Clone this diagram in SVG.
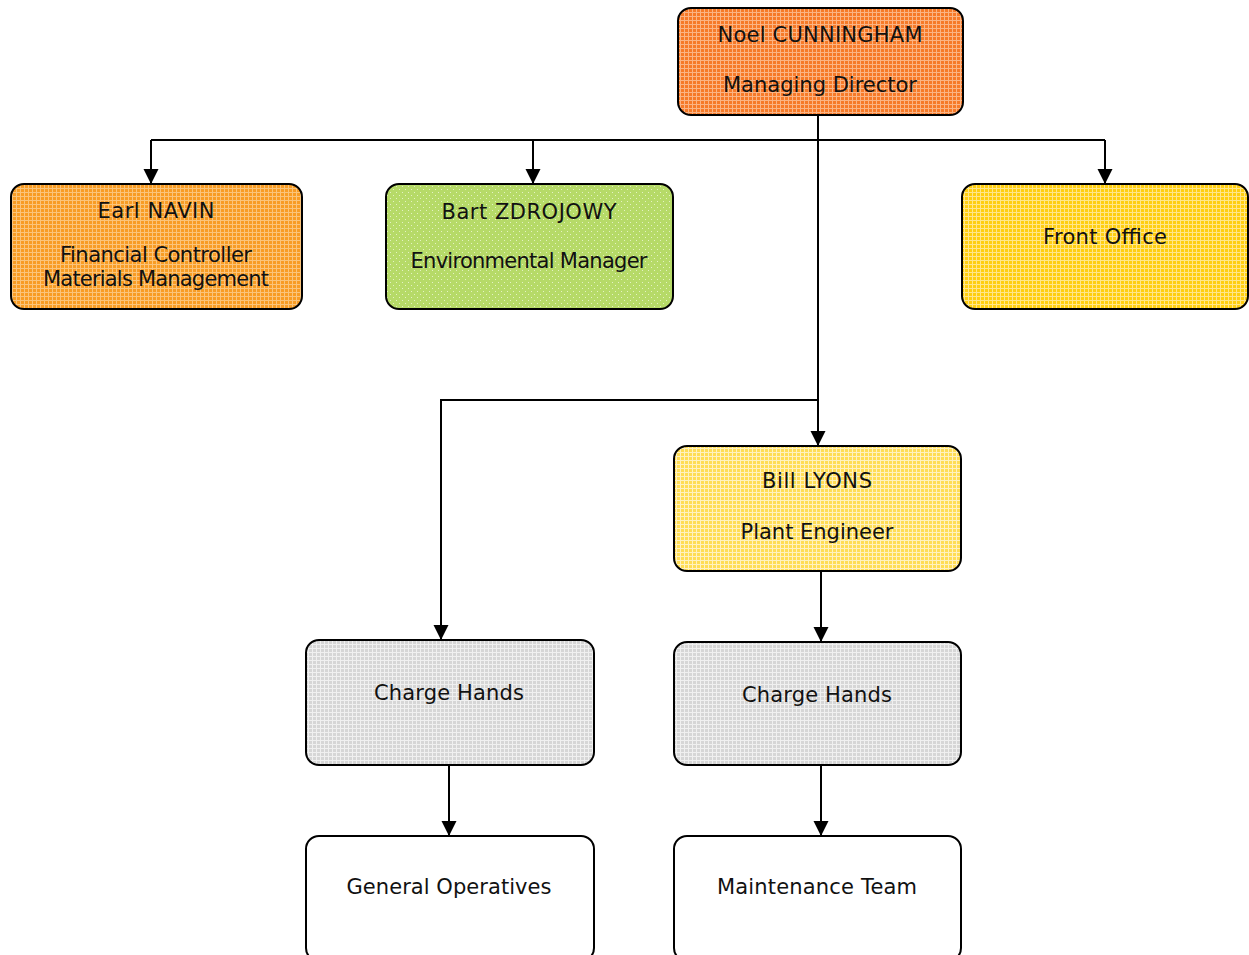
<svg xmlns="http://www.w3.org/2000/svg" width="1249" height="955" viewBox="0 0 1249 955">
<style>
.box{stroke:#000;stroke-width:2}
.t{font-family:"DejaVu Sans","Verdana",sans-serif;font-size:21px;fill:#111;text-anchor:middle}
.c{fill:none;stroke:#000;stroke-width:2}
</style>
<defs>
<marker id="arr" markerUnits="userSpaceOnUse" markerWidth="16" markerHeight="16" refX="15" refY="7.5" orient="auto">
<path d="M0,0 L15,7.5 L0,15 z" fill="#000"/>
</marker>
<pattern id="pOrange" width="4" height="4" patternUnits="userSpaceOnUse">
<rect width="4" height="4" fill="#F67A28"/><rect width="4" height="1" fill="#FBB484"/><rect width="1" height="4" fill="#FBB484"/>
</pattern>
<pattern id="pAmber" width="4" height="4" patternUnits="userSpaceOnUse">
<rect width="4" height="4" fill="#F89C24"/><rect width="4" height="1" fill="#FBC47A"/><rect width="1" height="4" fill="#FBC47A"/>
</pattern>
<pattern id="pGreen" width="6" height="6" patternUnits="userSpaceOnUse">
<rect width="6" height="6" fill="#B6DA68"/><rect x="0" y="0" width="1" height="1" fill="#E4F2C4"/><rect x="3" y="3" width="1" height="1" fill="#E4F2C4"/>
</pattern>
<pattern id="pYellow" width="4" height="4" patternUnits="userSpaceOnUse">
<rect width="4" height="4" fill="#FFCE10"/><rect width="4" height="1" fill="#FFE68A"/><rect width="1" height="4" fill="#FFE68A"/>
</pattern>
<pattern id="pLight" width="4" height="4" patternUnits="userSpaceOnUse">
<rect width="4" height="4" fill="#FFDD55"/><rect width="4" height="1" fill="#FFF2C0"/><rect width="1" height="4" fill="#FFF2C0"/>
</pattern>
<pattern id="pGray" width="4" height="4" patternUnits="userSpaceOnUse">
<rect width="4" height="4" fill="#D6D6D6"/><rect width="4" height="1" fill="#F0F0F0"/><rect width="1" height="4" fill="#F0F0F0"/>
</pattern>
</defs>
<rect width="1249" height="955" fill="#fff"/>

<g id="connectors">
<path class="c" d="M818,116 V446" marker-end="url(#arr)"/>
<path class="c" d="M151,140 H1105"/>
<path class="c" d="M151,140 V184" marker-end="url(#arr)"/>
<path class="c" d="M533,140 V184" marker-end="url(#arr)"/>
<path class="c" d="M1105,140 V184" marker-end="url(#arr)"/>
<path class="c" d="M818,400 H441 V640" marker-end="url(#arr)"/>
<path class="c" d="M821,571 V642" marker-end="url(#arr)"/>
<path class="c" d="M449,765 V836" marker-end="url(#arr)"/>
<path class="c" d="M821,765 V836" marker-end="url(#arr)"/>
</g>

<g id="noel">
<rect class="box" x="678" y="8" width="285" height="107" rx="13" fill="url(#pOrange)"/>
<text class="t" x="820" y="42" textLength="205" lengthAdjust="spacing">Noel CUNNINGHAM</text>
<text class="t" x="820" y="92" textLength="194" lengthAdjust="spacing">Managing Director</text>
</g>

<g id="earl">
<rect class="box" x="11" y="184" width="291" height="125" rx="13" fill="url(#pAmber)"/>
<text class="t" x="156" y="218" textLength="117" lengthAdjust="spacing">Earl NAVIN</text>
<text class="t" x="156" y="262" textLength="192" lengthAdjust="spacing">Financial Controller</text>
<text class="t" x="156" y="286" textLength="226" lengthAdjust="spacing">Materials Management</text>
</g>

<g id="bart">
<rect class="box" x="386" y="184" width="287" height="125" rx="13" fill="url(#pGreen)"/>
<text class="t" x="529" y="219" textLength="175" lengthAdjust="spacing">Bart ZDROJOWY</text>
<text class="t" x="529" y="268" textLength="237" lengthAdjust="spacing">Environmental Manager</text>
</g>

<g id="front-office">
<rect class="box" x="962" y="184" width="286" height="125" rx="13" fill="url(#pYellow)"/>
<text class="t" x="1105" y="244" textLength="124" lengthAdjust="spacing">Front Office</text>
</g>

<g id="bill">
<rect class="box" x="674" y="446" width="287" height="125" rx="13" fill="url(#pLight)"/>
<text class="t" x="817" y="488" textLength="110" lengthAdjust="spacing">Bill LYONS</text>
<text class="t" x="817" y="539" textLength="153" lengthAdjust="spacing">Plant Engineer</text>
</g>

<g id="charge-hands-left">
<rect class="box" x="306" y="640" width="288" height="125" rx="13" fill="url(#pGray)"/>
<text class="t" x="449" y="700" textLength="150" lengthAdjust="spacing">Charge Hands</text>
</g>

<g id="charge-hands-right">
<rect class="box" x="674" y="642" width="287" height="123" rx="13" fill="url(#pGray)"/>
<text class="t" x="817" y="702" textLength="150" lengthAdjust="spacing">Charge Hands</text>
</g>

<g id="general-operatives">
<rect class="box" x="306" y="836" width="288" height="125" rx="13" fill="#fff"/>
<text class="t" x="449" y="894" textLength="205" lengthAdjust="spacing">General Operatives</text>
</g>

<g id="maintenance-team">
<rect class="box" x="674" y="836" width="287" height="125" rx="13" fill="#fff"/>
<text class="t" x="817" y="894" textLength="200" lengthAdjust="spacing">Maintenance Team</text>
</g>
</svg>
